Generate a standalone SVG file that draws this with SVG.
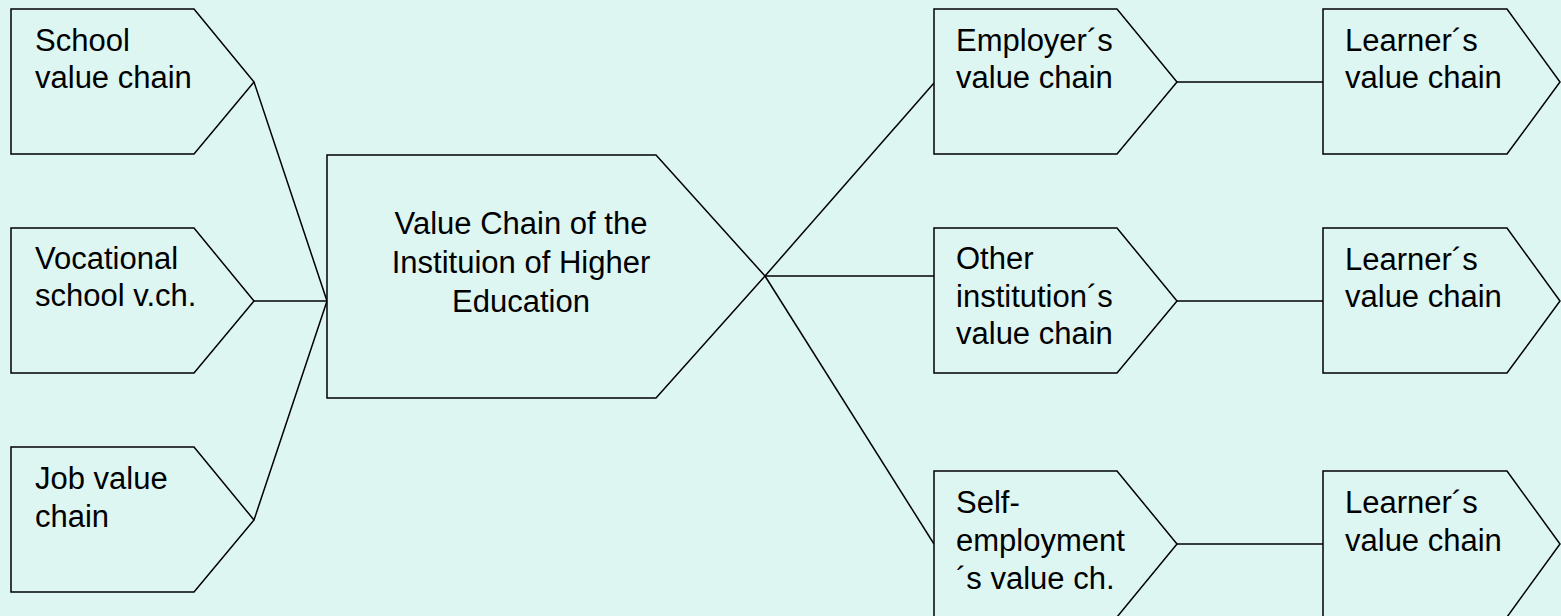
<svg xmlns="http://www.w3.org/2000/svg" width="1561" height="616" viewBox="0 0 1561 616">
<style>
.n{fill:#DDF6F2;stroke:#000;stroke-width:1.5}
.c{fill:none;stroke:#000;stroke-width:1.5}
text{font-family:"Liberation Sans",Arial,sans-serif;font-size:31px;fill:#000}
.m{text-anchor:middle}
</style>
<rect width="1561" height="616" fill="#DDF6F2"/>
<g id="connectors">
<line class="c" x1="254" y1="82" x2="327" y2="301"/>
<line class="c" x1="254" y1="301" x2="327" y2="301"/>
<line class="c" x1="254" y1="520" x2="327" y2="301"/>
<line class="c" x1="765" y1="276" x2="934" y2="83"/>
<line class="c" x1="765" y1="276" x2="934" y2="276"/>
<line class="c" x1="765" y1="276" x2="934" y2="544"/>
<line class="c" x1="1177" y1="82" x2="1323" y2="82"/>
<line class="c" x1="1177" y1="301" x2="1323" y2="301"/>
<line class="c" x1="1177" y1="544" x2="1323" y2="544"/>
</g>
<g id="school">
<polygon class="n" points="11,9 194,9 254,82 194,154 11,154"/>
<text x="35" y="51">School</text>
<text x="35" y="88">value chain</text>
</g>
<g id="vocational">
<polygon class="n" points="11,228 194,228 254,301 194,373 11,373"/>
<text x="35" y="269">Vocational</text>
<text x="35" y="306">school v.ch.</text>
</g>
<g id="job">
<polygon class="n" points="11,447 194,447 254,520 194,592 11,592"/>
<text x="35" y="489">Job value</text>
<text x="35" y="527">chain</text>
</g>
<g id="center">
<polygon class="n" points="327,155 656,155 765,276 656,398 327,398"/>
<text class="m" x="521" y="234">Value Chain of the</text>
<text class="m" x="521" y="273">Instituion of Higher</text>
<text class="m" x="521" y="312">Education</text>
</g>
<g id="employer">
<polygon class="n" points="934,9 1117,9 1177,82 1117,154 934,154"/>
<text x="956" y="51">Employer´s</text>
<text x="956" y="88">value chain</text>
</g>
<g id="other">
<polygon class="n" points="934,228 1117,228 1177,301 1117,373 934,373"/>
<text x="956" y="269">Other</text>
<text x="956" y="307">institution´s</text>
<text x="956" y="344">value chain</text>
</g>
<g id="self">
<polygon class="n" points="934,471 1117,471 1177,544 1117,617 934,617"/>
<text x="956" y="513">Self-</text>
<text x="956" y="551">employment</text>
<text x="956" y="589">´s value ch.</text>
</g>
<g id="learner1">
<polygon class="n" points="1323,9 1507,9 1560,82 1507,154 1323,154"/>
<text x="1345" y="51">Learner´s</text>
<text x="1345" y="88">value chain</text>
</g>
<g id="learner2">
<polygon class="n" points="1323,228 1507,228 1560,301 1507,373 1323,373"/>
<text x="1345" y="270">Learner´s</text>
<text x="1345" y="307">value chain</text>
</g>
<g id="learner3">
<polygon class="n" points="1323,471 1507,471 1560,544 1507,617 1323,617"/>
<text x="1345" y="513">Learner´s</text>
<text x="1345" y="551">value chain</text>
</g>
</svg>
